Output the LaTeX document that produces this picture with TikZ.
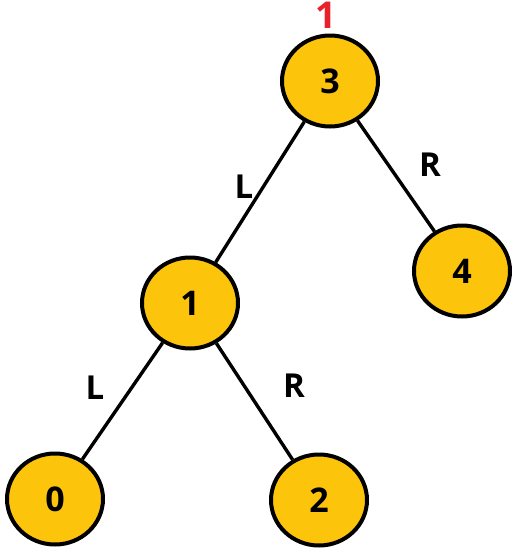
\documentclass[tikz,border=0pt]{standalone}
\usepackage{fontspec}
\setmainfont{Open Sans}
\usetikzlibrary{shapes.geometric}
\definecolor{nodefill}{RGB}{253,196,12}
\definecolor{labred}{RGB}{232,32,42}
\tikzset{
  treenode/.style={ellipse, draw=black, line width=4pt, fill=nodefill,
    minimum width=96pt, minimum height=91pt, inner sep=0pt,
    font=\fontsize{34}{34}\selectfont\bfseries},
  edge/.style={line width=3.4pt, draw=black},
  edgelab/.style={font=\fontsize{33}{33}\selectfont\bfseries, inner sep=0pt},
  redlab/.style={font=\fontsize{37}{37}\selectfont\bfseries, text=labred, inner sep=0pt}
}
\begin{document}
\begin{tikzpicture}[x=1pt,y=-1pt]
\useasboundingbox (0,0) rectangle (518,558);
\fill[white] (0,0) rectangle (518,558);
\node[treenode] (n3) at (330,81) {\raisebox{-6pt}{3}};
\node[treenode] (n1) at (190,303) {1};
\node[treenode] (n4) at (462,271) {4};
\node[treenode] (n0) at (55,499) {0};
\node[treenode] (n2) at (319,500) {2};
\draw[edge] (n3) -- (n1);
\draw[edge] (n3) -- (n4);
\draw[edge] (n1) -- (n0);
\draw[edge] (n1) -- (n2);
\node[redlab] (top) at (326,15) {1};
\node[edgelab] (l1) at (244,187) {L};
\node[edgelab] (r1) at (430,165) {R};
\node[edgelab] (l2) at (95,388) {L};
\node[edgelab] (r2) at (294,386) {R};
\end{tikzpicture}
\end{document}
